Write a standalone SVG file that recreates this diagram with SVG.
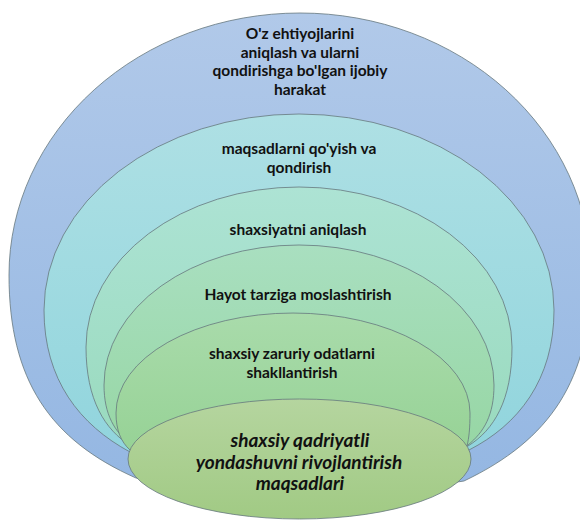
<svg xmlns="http://www.w3.org/2000/svg" width="580" height="522" viewBox="0 0 580 522">
<defs>
<linearGradient id="g1" x1="0" y1="0" x2="0" y2="1"><stop offset="0" stop-color="#b1c9e9"/><stop offset="1" stop-color="#93b6e2"/></linearGradient>
<linearGradient id="g2" x1="0" y1="0" x2="0" y2="1"><stop offset="0" stop-color="#aee0e4"/><stop offset="1" stop-color="#8dd3dc"/></linearGradient>
<linearGradient id="g3" x1="0" y1="0" x2="0" y2="1"><stop offset="0" stop-color="#ade3d4"/><stop offset="1" stop-color="#95d8b9"/></linearGradient>
<linearGradient id="g4" x1="0" y1="0" x2="0" y2="1"><stop offset="0" stop-color="#a9dfc0"/><stop offset="1" stop-color="#92d49d"/></linearGradient>
<linearGradient id="g5" x1="0" y1="0" x2="0" y2="1"><stop offset="0" stop-color="#a9dbab"/><stop offset="1" stop-color="#90cf8e"/></linearGradient>
<linearGradient id="g6" x1="0" y1="0" x2="0" y2="1"><stop offset="0" stop-color="#b5d59f"/><stop offset="1" stop-color="#a1ca84"/></linearGradient>
</defs>
<style>
.ring{stroke:#66777d;stroke-width:0.8}
.t{font-family:Lato,"Open Sans","Liberation Sans",sans-serif;font-weight:bold;font-size:15.5px;fill:#111;text-anchor:middle}
.ti{font-family:Lato,"Open Sans","Liberation Sans",sans-serif;font-weight:bold;font-style:italic;font-size:19px;fill:#111;text-anchor:middle}
</style>
<g id="n1">
<path class="ring" fill="url(#g1)" d="M 9,275 A 291 262 0 0 1 591,275 C 591,380 550,440 464,481 L 300,505 L 136,478 C 50,440 9,380 9,275 Z"/>
<text class="t" x="300" y="39">O'z ehtiyojlarini</text>
<text class="t" x="300" y="57.5">aniqlash va ularni</text>
<text class="t" x="300" y="76">qondirishga bo'lgan ijobiy</text>
<text class="t" x="300" y="94.5">harakat</text>
</g>
<g id="n2">
<path class="ring" fill="url(#g2)" d="M 44,310 A 255 196 0 0 1 554,310 C 554,380 518,425 469,450 L 300,500 L 130,452 C 80,425 44,380 44,310 Z"/>
<text class="t" x="299" y="154">maqsadlarni qo'yish va</text>
<text class="t" x="299" y="172.5">qondirish</text>
</g>
<g id="n3">
<path class="ring" fill="url(#g3)" d="M 86,347 A 213 160 0 0 1 512,347 C 512,400 494,430 468,446 L 300,500 L 131,446 C 105,430 86,400 86,347 Z"/>
<text class="t" x="298" y="235">shaxsiyatni aniqlash</text>
</g>
<g id="n4">
<path class="ring" fill="url(#g4)" d="M 104,385 A 195 140 0 0 1 494,385 C 494,415 484,432 468,445 L 300,500 L 131,445 C 115,432 104,415 104,385 Z"/>
<text class="t" x="298" y="300">Hayot tarziga moslashtirish</text>
</g>
<g id="n5">
<path class="ring" fill="url(#g5)" d="M 116,413 A 177 100 0 0 1 470,413 C 470,428 469,438 467,446 L 300,500 L 130,450 C 121,442 116,430 116,413 Z"/>
<text class="t" x="292" y="359">shaxsiy zaruriy odatlarni</text>
<text class="t" x="292" y="378">shakllantirish</text>
</g>
<g id="n6">
<ellipse class="ring" cx="299.5" cy="459" rx="171.5" ry="60" fill="url(#g6)"/>
<text class="ti" x="300" y="447">shaxsiy qadriyatli</text>
<text class="ti" x="299" y="468.5">yondashuvni rivojlantirish</text>
<text class="ti" x="300" y="490">maqsadlari</text>
</g>
<g id="connectors"/>
</svg>
